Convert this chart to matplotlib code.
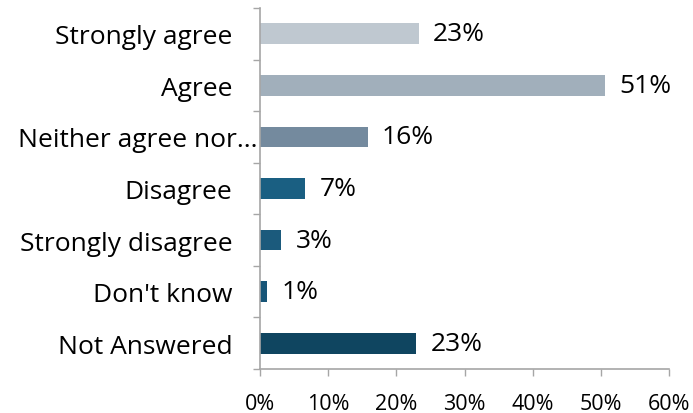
import matplotlib
matplotlib.use("Agg")
import matplotlib.pyplot as plt
from matplotlib.ticker import FixedLocator, PercentFormatter
from matplotlib.transforms import ScaledTranslation

# survey responses, top to bottom
categories = ["Strongly agree", "Agree", "Neither agree nor...", "Disagree",
              "Strongly disagree", "Don't know", "Not Answered"]
values = [23.3, 50.6, 15.8, 6.6, 3.1, 1.0, 22.9]
labels = ["23%", "51%", "16%", "7%", "3%", "1%", "23%"]
colors = ["#bfc8d0", "#a1afbb", "#748a9e", "#1a5f82", "#1b5a7c", "#175577", "#0f4560"]

plt.rcParams["font.family"] = ["Open Sans", "DejaVu Sans"]

fig = plt.figure(figsize=(6.93, 4.14), dpi=100)
ax = fig.add_axes([260 / 693, (414 - 370) / 414, 409 / 693, 361 / 414])

y = list(range(len(categories)))
ax.barh(y, values, height=0.4, color=colors)
for yi, v, lab in zip(y, values, labels):
    ax.text(v + 2.1, yi, lab, va="center", ha="left", fontsize=19, color="black")

ax.set_ylim(len(categories) - 0.5, -0.5)
ax.set_xlim(0, 60)
ax.set_xticks([0, 10, 20, 30, 40, 50, 60])
ax.xaxis.set_major_formatter(PercentFormatter(decimals=0))
ax.set_yticks(y)
ax.set_yticklabels(categories, fontsize=19)
ax.yaxis.set_minor_locator(FixedLocator([i - 0.5 for i in range(len(categories) + 1)]))
ax.tick_params(axis="y", which="major", length=0, pad=20)
ax.tick_params(axis="y", which="minor", length=5, color="#a6a6a6", width=1)
ax.tick_params(axis="x", length=5, color="#a6a6a6", width=1, labelsize=15.5, pad=12)

# the truncated label sits closer to the axis
neither = ax.get_yticklabels()[2]
neither.set_transform(neither.get_transform() + ScaledTranslation(25 / 100, 0, fig.dpi_scale_trans))

for side in ["top", "right"]:
    ax.spines[side].set_visible(False)
for side in ["left", "bottom"]:
    ax.spines[side].set_color("#a6a6a6")
    ax.spines[side].set_linewidth(1.2)

plt.savefig("out.png", dpi=100)
